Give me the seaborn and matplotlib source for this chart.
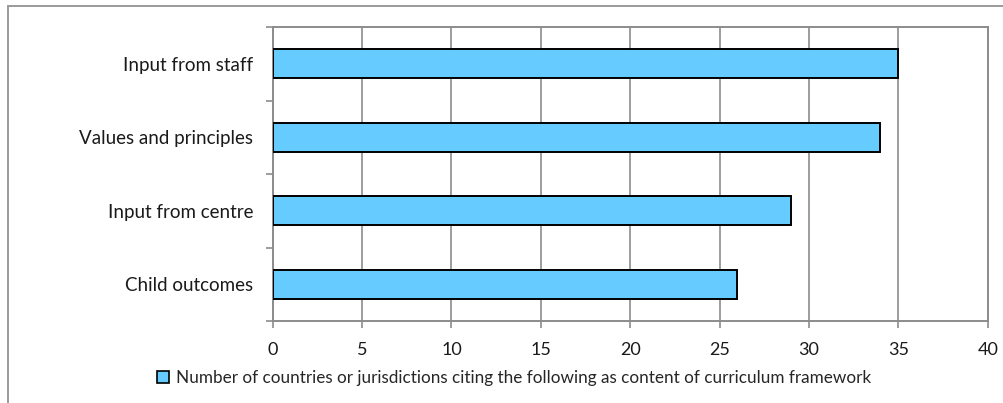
import matplotlib
matplotlib.use("Agg")
import matplotlib.pyplot as plt
from matplotlib.patches import Rectangle, Patch
import seaborn as sns
import pandas as pd

categories = ["Input from staff", "Values and principles", "Input from centre", "Child outcomes"]
counts = [35, 34, 29, 26]
series_name = "Number of countries or jurisdictions citing the following as content of curriculum framework"
x_ticks = [0, 5, 10, 15, 20, 25, 30, 35, 40]

df = pd.DataFrame({"category": categories, "count": counts})

sns.set_theme(style="white")
plt.rcParams["font.family"] = ["Lato", "DejaVu Sans"]

W, H = 1004, 403
fig = plt.figure(figsize=(W / 100, H / 100), dpi=100)
ax = fig.add_axes([272.7 / W, 1 - 321 / H, (987.7 - 272.7) / W, (321 - 27) / H])

bar_color = "#66CCFF"
grid_color = "#8C8C8C"

sns.barplot(data=df, x="count", y="category", order=categories, orient="h",
            color=bar_color, edgecolor="black", linewidth=1.4, width=0.4,
            saturation=1, ax=ax, zorder=3)

ax.set_xlim(0, 40)
ax.set_ylim(3.5, -0.5)
ax.set_xticks(x_ticks)
ax.set_xticklabels([str(v) for v in x_ticks], fontsize=13, color="#1a1a1a")
ax.set_yticks(range(len(categories)))
ax.set_yticklabels(categories, fontsize=13.5, color="#1a1a1a")
ax.tick_params(axis="y", length=0, pad=14)
ax.set_yticks([i + 0.5 for i in range(-1, len(categories))], minor=True)
ax.tick_params(axis="y", which="minor", length=5, width=1.2, color=grid_color, direction="out", left=True)
ax.tick_params(axis="x", length=5, width=1.2, color=grid_color, direction="out", bottom=True, pad=10)
ax.set_xlabel("")
ax.set_ylabel("")

ax.xaxis.grid(True, color=grid_color, linewidth=1.2, zorder=0)
ax.set_axisbelow(True)
for s in ax.spines.values():
    s.set_color(grid_color)
    s.set_linewidth(1.4)

handle = Patch(facecolor=bar_color, edgecolor="black", linewidth=1.2)
fig.legend([handle], [series_name], loc="center", bbox_to_anchor=(514 / W, 1 - 378 / H),
           frameon=False, fontsize=12.3, handlelength=0.75, handleheight=0.75,
           handletextpad=0.4)

fig.patches.append(Rectangle((8 / W, -0.05), 1.1, 1 - 6 / H + 0.05, transform=fig.transFigure,
                             fill=False, edgecolor="#9a9a9a", linewidth=1.4))

fig.savefig("out.png", dpi=100, facecolor="white")
